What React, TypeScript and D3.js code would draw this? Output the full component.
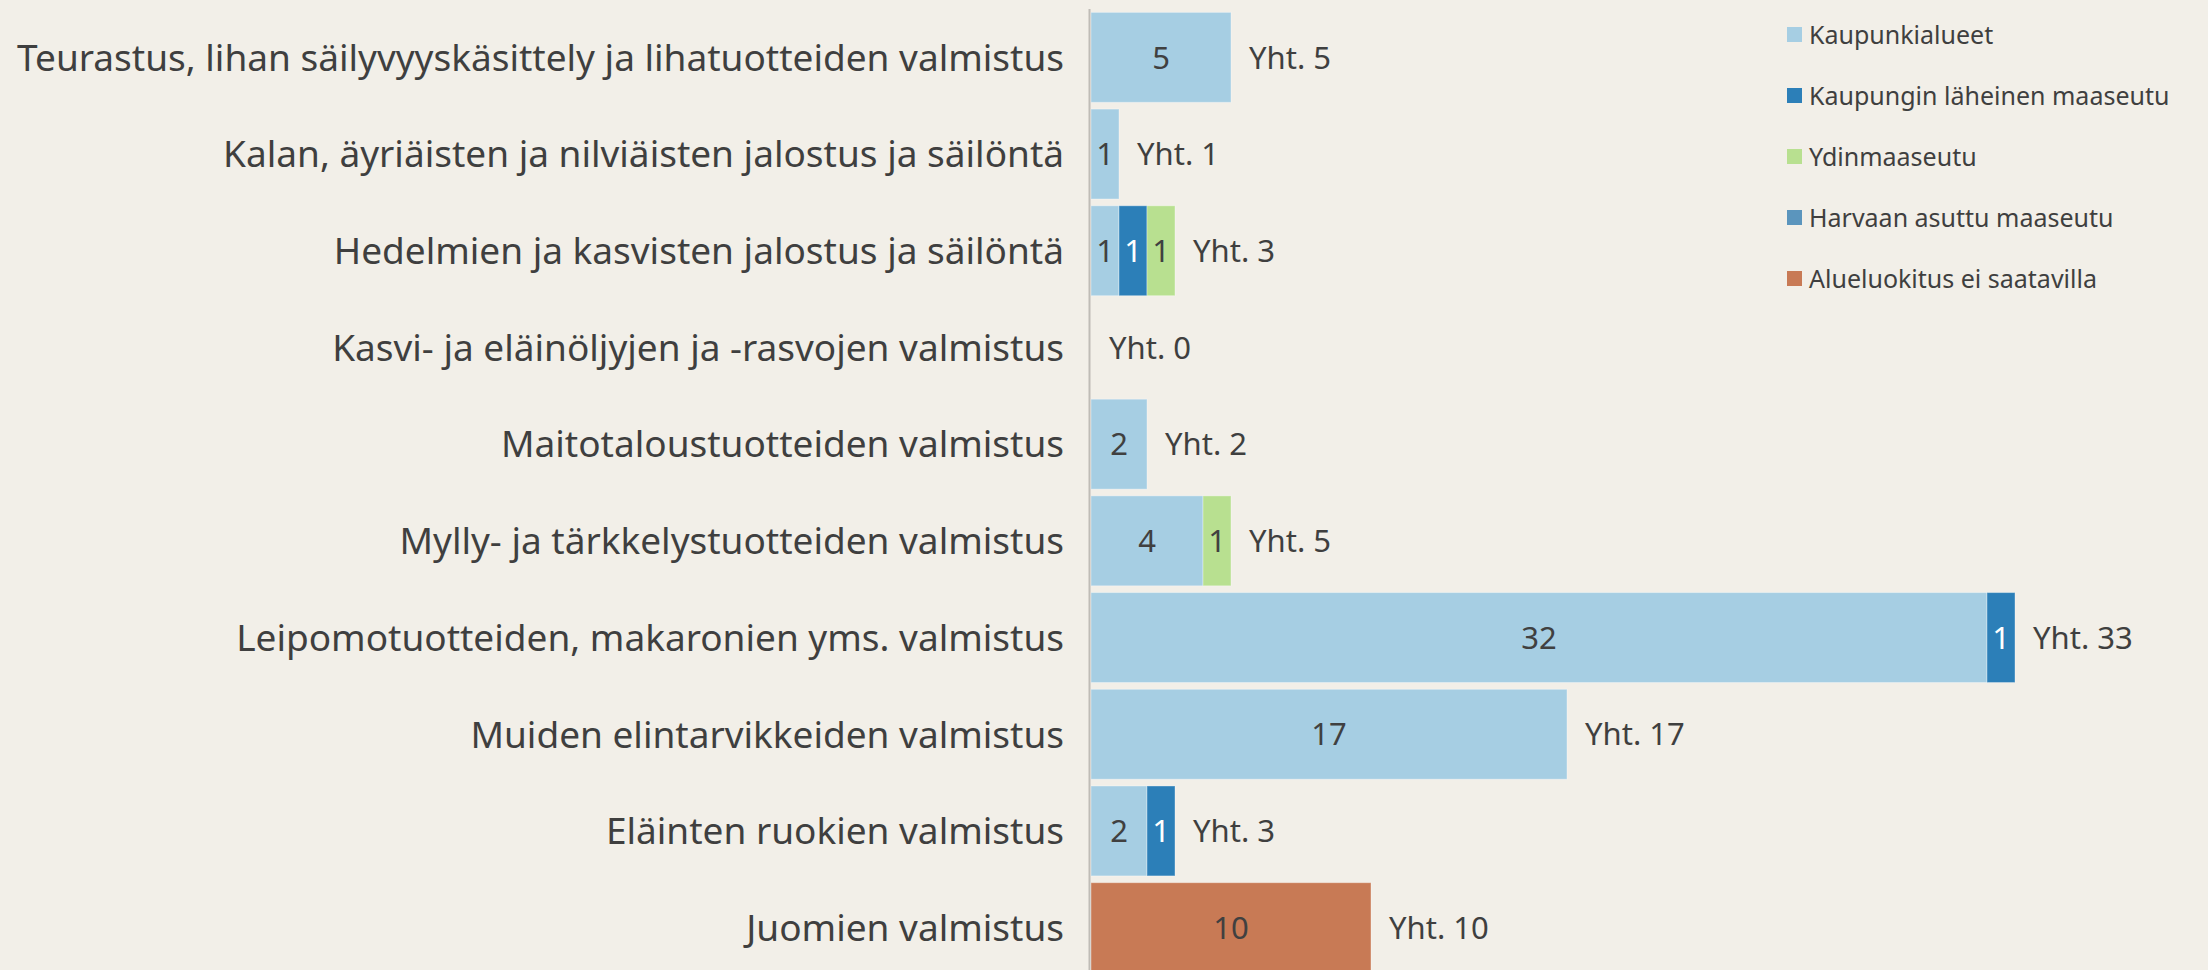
import React from "react";
import * as d3 from "d3";

const W = 2208;
const H = 970;

const categories = [
  "Teurastus, lihan säilyvyyskäsittely ja lihatuotteiden valmistus",
  "Kalan, äyriäisten ja nilviäisten jalostus ja säilöntä",
  "Hedelmien ja kasvisten jalostus ja säilöntä",
  "Kasvi- ja eläinöljyjen ja -rasvojen valmistus",
  "Maitotaloustuotteiden valmistus",
  "Mylly- ja tärkkelystuotteiden valmistus",
  "Leipomotuotteiden, makaronien yms. valmistus",
  "Muiden elintarvikkeiden valmistus",
  "Eläinten ruokien valmistus",
  "Juomien valmistus",
];

const seriesNames = [
  "Kaupunkialueet",
  "Kaupungin läheinen maaseutu",
  "Ydinmaaseutu",
  "Harvaan asuttu maaseutu",
  "Alueluokitus ei saatavilla",
];

const kaupunki = [5, 1, 1, 0, 2, 4, 32, 17, 2, 0];
const lahimaaseutu = [0, 0, 1, 0, 0, 0, 1, 0, 1, 0];
const ydinmaaseutu = [0, 0, 1, 0, 0, 1, 0, 0, 0, 0];
const harvaan = [0, 0, 0, 0, 0, 0, 0, 0, 0, 0];
const eiSaatavilla = [0, 0, 0, 0, 0, 0, 0, 0, 0, 10];

const seriesValues = [kaupunki, lahimaaseutu, ydinmaaseutu, harvaan, eiSaatavilla];
const colors = ["#a6cee3", "#2c7fb8", "#b8e090", "#5b95bd", "#c87a55"];
const labelColors = ["#404040", "#ffffff", "#404040", "#ffffff", "#404040"];

const FONT = "'Noto Sans', sans-serif";
const TEXT = "#3f3f3f";

export default function App() {
  const rows = categories.map((c, i) => {
    const row: Record<string, number | string> = { cat: c };
    seriesNames.forEach((s, j) => (row[s] = seriesValues[j][i]));
    return row;
  });

  const stack = d3
    .stack<Record<string, number | string>>()
    .keys(seriesNames)
    .value((d, k) => d[k] as number);
  const layers = stack(rows);

  const x = d3.scaleLinear().domain([0, 40]).range([1091, 1091 + 1120]);
  const y = d3
    .scaleBand<string>()
    .domain(categories)
    .range([9, 976])
    .paddingInner(0.07)
    .paddingOuter(0.035);

  const totals = categories.map((_, i) => d3.sum(seriesValues, (s) => s[i]));

  return (
    <svg
      width={W}
      height={H}
      style={{ position: "absolute", left: 0, top: 0, display: "block" }}
      fontFamily={FONT}
    >
      <rect x={0} y={0} width={W} height={H} fill="#f2efe8" />

      {layers.map((layer, j) => (
        <g key={seriesNames[j]}>
          {layer.map((seg, i) => {
            const v = seg[1] - seg[0];
            if (v <= 0) return null;
            const x0 = x(seg[0]);
            const x1 = x(seg[1]);
            const yy = y(categories[i])!;
            return (
              <g key={i}>
                <rect
                  x={x0}
                  y={yy}
                  width={x1 - x0}
                  height={y.bandwidth()}
                  fill={colors[j]}
                  stroke="rgba(255,255,255,0.35)"
                  strokeWidth={1}
                />
                <text
                  x={(x0 + x1) / 2}
                  y={yy + y.bandwidth() / 2}
                  dy="0.36em"
                  textAnchor="middle"
                  fontSize={31}
                  fill={labelColors[j]}
                >
                  {v}
                </text>
              </g>
            );
          })}
        </g>
      ))}

      {categories.map((c, i) => (
        <g key={c}>
          <text
            x={1064}
            y={y(c)! + y.bandwidth() / 2}
            dy="0.36em"
            textAnchor="end"
            fontSize={37}
            fill={TEXT}
          >
            {c}
          </text>
          <text
            x={x(totals[i]) + 18}
            y={y(c)! + y.bandwidth() / 2}
            dy="0.36em"
            fontSize={31}
            fill={TEXT}
          >
            {`Yht. ${totals[i]}`}
          </text>
        </g>
      ))}

      <line x1={1089.5} x2={1089.5} y1={9} y2={H} stroke="#bfbcb6" strokeWidth={2} />

      {seriesNames.map((s, j) => (
        <g key={s} transform={`translate(1787, ${27 + j * 61})`}>
          <rect width={15} height={15} fill={colors[j]} />
          <text x={22} y={7.5} dy="0.36em" fontSize={25} fill={TEXT}>
            {s}
          </text>
        </g>
      ))}
    </svg>
  );
}
